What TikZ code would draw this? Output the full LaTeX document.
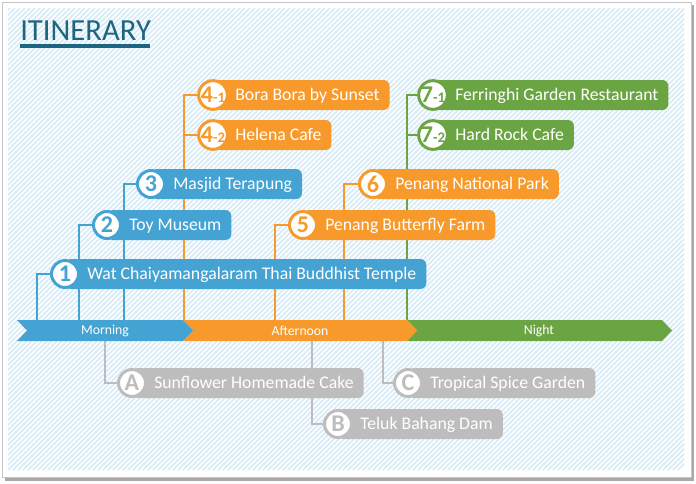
\documentclass[tikz,border=0pt]{standalone}
\usepackage{fontspec}
\setmainfont{Carlito}
\usetikzlibrary{backgrounds}
\definecolor{Sky}{HTML}{45A3D3}
\definecolor{Amber}{HTML}{F89A2B}
\definecolor{Leaf}{HTML}{6BA443}
\definecolor{Stone}{HTML}{BDBDBD}
\definecolor{Title}{HTML}{1D6580}
\definecolor{Hatch}{HTML}{D6EBF7}
\definecolor{Edge}{HTML}{C6C6C6}
\definecolor{Shadow}{HTML}{A9A9A9}
\newcommand{\subno}[1]{{\fontsize{11}{11}\selectfont-#1}}
\tikzset{
  place/.style={
    rectangle, rounded corners=4.5pt, fill=#1, text=white, anchor=west,
    minimum height=22.5pt, inner xsep=7.5pt, inner ysep=0pt,
    text height=10.5pt, text depth=2pt, font=\fontsize{13.3}{16}\selectfont,
    execute at begin node={\hspace*{9pt}}
  },
  badge/.style={
    circle, fill=white, draw=#1, text=#1, line width=2.25pt,
    minimum size=20.25pt, inner sep=0pt, text depth=0pt,
    font=\fontsize{18}{18}\selectfont\bfseries
  },
  link/.style={draw=#1, line width=1.5pt},
  phase/.style={text=white, font=\fontsize{10.3}{12}\selectfont},
  hatch/.style={draw=Hatch, line width=1.3pt}
}

\begin{document}
\begin{tikzpicture}[x=0.75pt,y=-0.75pt]
  \useasboundingbox (0,0) rectangle (696,483);
  % card and hatched paper
  \begin{scope}[on background layer]
    \fill[Shadow] (5,5) rectangle (694,481);
    \filldraw[fill=white, draw=Edge, line width=0.75pt] (2,2) rectangle (691,477);
    \begin{scope}
      \clip (8,8) rectangle (684,470);
      \foreach \i in {-462,-457,...,680}
        \draw[hatch] (\i,470) -- ++(462,-462);
    \end{scope}
  \end{scope}

  \node[anchor=base west, inner sep=0pt, text=Title, font=\fontsize{23}{23}\selectfont] (title) at (20,40) {ITINERARY};
  \fill[Title] (20,44) rectangle (150,47.5);

  % time line
  \fill[Leaf] (407,320) -- (662,320) -- (672,330.5) -- (662,341) -- (407,341) -- (417,330.5) -- cycle;
  \fill[Amber] (183,320) -- (407,320) -- (417,330.5) -- (407,341) -- (183,341) -- (193,330.5) -- cycle;
  \fill[Sky] (17,320) -- (183,320) -- (193,330.5) -- (183,341) -- (17,341) -- (27,330.5) -- cycle;
  \node[phase] (morning) at (105,330.5) {Morning};
  \node[phase] (afternoon) at (300,330.5) {Afternoon};
  \node[phase] (night) at (539,330.5) {Night};

  \coordinate (m1) at (37,320);
  \coordinate (m2) at (79,320);
  \coordinate (m3) at (124,320);
  \coordinate (a4) at (184,320);
  \coordinate (a5) at (275,320);
  \coordinate (a6) at (344,320);
  \coordinate (n7) at (407,320);
  \coordinate (fa) at (105,341);
  \coordinate (fb) at (312,341);
  \coordinate (fc) at (383,341);

  % morning
  \node[place=Sky] (p1) at (65,274) {Wat Chaiyamangalaram Thai Buddhist Temple};
  \node[badge=Sky] (b1) at (p1.west) {1};
  \node[place=Sky] (p2) at (107,225) {Toy Museum};
  \node[badge=Sky] (b2) at (p2.west) {2};
  \node[place=Sky] (p3) at (151,184) {Masjid Terapung};
  \node[badge=Sky] (b3) at (p3.west) {3};

  % afternoon
  \node[place=Amber] (p41) at (213,95) {Bora Bora by Sunset};
  \node[badge=Amber] (b41) at (p41.west) {4\subno{1}};
  \node[place=Amber] (p42) at (213,135) {Helena Cafe};
  \node[badge=Amber] (b42) at (p42.west) {4\subno{2}};
  \node[place=Amber] (p5) at (303,225) {Penang Butterfly Farm};
  \node[badge=Amber] (b5) at (p5.west) {5};
  \node[place=Amber] (p6) at (373,184) {Penang National Park};
  \node[badge=Amber] (b6) at (p6.west) {6};

  % night
  \node[place=Leaf] (p71) at (433,95) {Ferringhi Garden Restaurant};
  \node[badge=Leaf] (b71) at (p71.west) {7\subno{1}};
  \node[place=Leaf] (p72) at (433,135) {Hard Rock Cafe};
  \node[badge=Leaf] (b72) at (p72.west) {7\subno{2}};

  % optional stops
  \node[place=Stone] (pA) at (132,383) {Sunflower Homemade Cake};
  \node[badge=Stone] (bA) at (pA.west) {A};
  \node[place=Stone] (pB) at (338,424) {Teluk Bahang Dam};
  \node[badge=Stone] (bB) at (pB.west) {B};
  \node[place=Stone] (pC) at (408,383) {Tropical Spice Garden};
  \node[badge=Stone] (bC) at (pC.west) {C};

  \begin{scope}[on background layer]
    \draw[link=Sky] (m1) |- (b1);
    \draw[link=Sky] (m2) |- (b2);
    \draw[link=Sky] (m3) |- (b3);
    \draw[link=Amber] (a4) |- (b41);
    \draw[link=Amber] (a4) |- (b42);
    \draw[link=Amber] (a5) |- (b5);
    \draw[link=Amber] (a6) |- (b6);
    \draw[link=Leaf] (n7) |- (b71);
    \draw[link=Leaf] (n7) |- (b72);
    \draw[link=Stone] (fa) |- (bA);
    \draw[link=Stone] (fb) |- (bB);
    \draw[link=Stone] (fc) |- (bC);
  \end{scope}
\end{tikzpicture}
\end{document}
